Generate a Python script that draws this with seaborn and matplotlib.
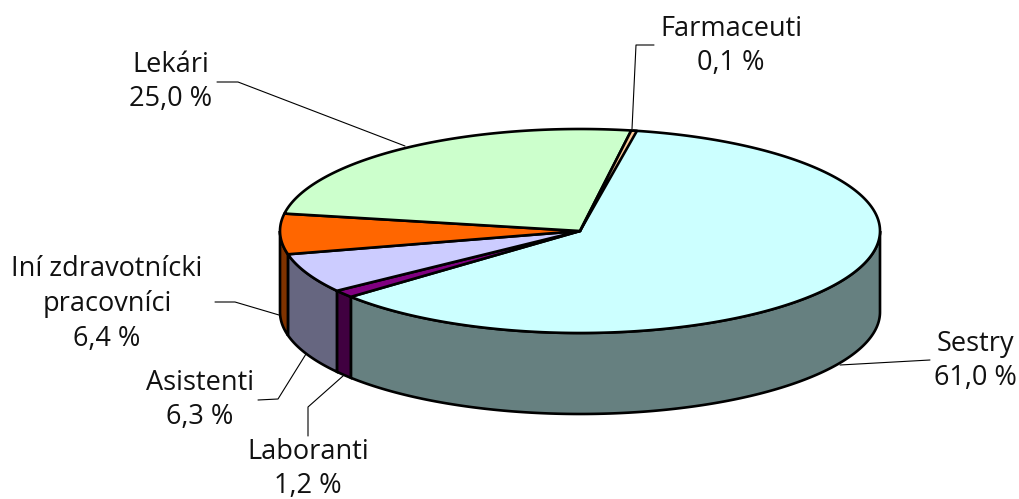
import numpy as np
import matplotlib
matplotlib.use("Agg")
import matplotlib.pyplot as plt
import seaborn as sns

categories = ["Sestry", "Laboranti", "Asistenti", "Iní zdravotnícki\npracovníci", "Lekári", "Farmaceuti"]
values = [61.0, 1.2, 6.3, 6.4, 25.0, 0.1]
labels = ["61,0 %", "1,2 %", "6,3 %", "6,4 %", "25,0 %", "0,1 %"]
top_colors = ["#CCFFFF", "#800080", "#CCCCFF", "#FF6600", "#CCFFCC", "#FFCC99"]
side_colors = ["#668080", "#400040", "#666680", "#803300", "#668066", "#806633"]

sns.set_theme(style="white")
plt.rcParams["font.family"] = ["Open Sans", "DejaVu Sans"]

W, H = 1019, 499
fig = plt.figure(figsize=(W / 100, H / 100), dpi=100)
ax = fig.add_axes([0, 0, 1, 1])
ax.set_xlim(0, W)
ax.set_ylim(H, 0)
ax.axis("off")

cx, cy, a, b, depth = 580, 231, 300, 102, 81
start = 10.2
min_sweep = 1.1
shares = np.array(values) / sum(values) * 360
ends = start + np.cumsum(shares)
starts = ends - shares
LW = 1.9


def pt(deg):
    r = np.radians(deg)
    return cx + a * np.sin(r), cy - b * np.cos(r)


for s, e, col in zip(starts, ends, side_colors):
    lo, hi = max(s, 90), min(e, 270)
    if lo < hi:
        t = np.linspace(lo, hi, 200)
        x, y = pt(t)
        ax.fill(np.r_[x, x[::-1]], np.r_[y, y[::-1] + depth], fc=col, ec="black", lw=LW, zorder=2)
for s, e, col in zip(starts, ends, top_colors):
    t = np.linspace(s, max(e, s + min_sweep), 300)
    x, y = pt(t)
    ax.fill(np.r_[cx, x], np.r_[cy, y], fc=col, ec="black", lw=LW, zorder=3, joinstyle="round")

label_pos = [(975, 361), (308, 469), (200, 400), (107, 304), (171, 82), (731, 46)]
leaders = [
    [(930, 360), (840, 365)],
    [(308, 436), (308, 407), (343, 376)],
    [(258, 400), (278, 399), (306, 354)],
    [(215, 302), (235, 302), (279, 315)],
    [(217, 82), (238, 82), (405, 146)],
    [(654, 45), (636, 45), (632, 129)],
]
for cat, lab, (lx, ly), line in zip(categories, labels, label_pos, leaders):
    ax.text(lx, ly, f"{cat}\n{lab}", ha="center", va="center", fontsize=19.5,
            color="#111111", linespacing=1.33, zorder=5)
    lxs, lys = zip(*line)
    ax.plot(lxs, lys, color="black", lw=0.8, zorder=4)

fig.savefig("out.png", dpi=100, facecolor="white")
